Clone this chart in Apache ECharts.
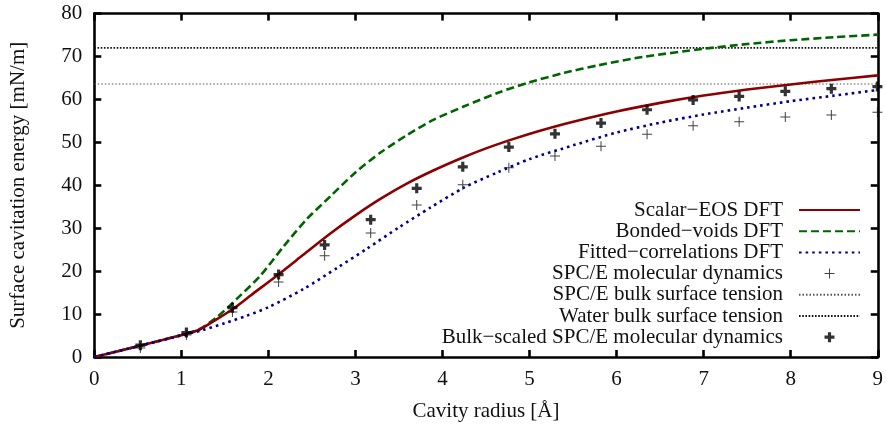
<!DOCTYPE html>
<html>
<head>
<meta charset="utf-8">
<script src="https://cdn.jsdelivr.net/npm/echarts@6/dist/echarts.min.js"></script>
<style>
  html, body { margin: 0; padding: 0; background: #fff; }
  #chart { width: 886px; height: 427px; }
</style>
</head>
<body>
<div id="chart"></div>
<script>
// Cavity radii (Å) of the molecular-dynamics samples
const mdRadius = [0.529, 1.058, 1.587, 2.117, 2.646, 3.175, 3.704, 4.233, 4.762,
                  5.292, 5.821, 6.350, 6.879, 7.408, 7.938, 8.467, 8.996];
const mdSpce = [2.1, 5.1, 10.5, 17.5, 23.6, 28.9, 35.4, 40.1, 44.1,
                46.8, 49.1, 51.9, 53.9, 54.8, 55.9, 56.4, 57.0];
const mdBulkScaled = [2.75, 5.7, 11.5, 19.2, 26.1, 32.0, 39.3, 44.3, 48.9,
                      52.0, 54.5, 57.6, 59.9, 60.7, 61.9, 62.5, 63.0];

// DFT curves: radius (Å) and surface cavitation energy (mN/m)
const scalarR = [0, 0.5, 1.0, 1.2, 1.4, 1.6, 1.8, 2.1, 2.4, 2.7, 3.0, 3.3, 3.6, 3.9,
                 4.2, 4.5, 4.8, 5.1, 5.4, 5.7, 6.0, 6.5, 7.0, 7.5, 8.0, 8.5, 9.0];
const scalarE = [0, 2.5, 5.1, 6.3, 8.7, 11.3, 14.4, 19.0, 23.8, 28.6, 33.0, 37.0, 40.5, 43.5,
                 46.2, 48.6, 50.7, 52.6, 54.3, 55.8, 57.2, 59.2, 60.9, 62.3, 63.5, 64.6, 65.6];

const bondedR = [0, 0.5, 1.0, 1.2, 1.41, 1.64, 1.91, 2.18, 2.44, 2.71, 3.0, 3.3, 3.6, 3.9,
                 4.25, 4.63, 5.0, 5.4, 5.8, 6.3, 7.0, 7.5, 8.0, 8.5, 9.0];
const bondedE = [0, 2.5, 5.1, 6.4, 9.3, 13.6, 19.0, 25.9, 32.1, 37.4, 43.0, 47.8, 51.8, 55.3,
                 58.4, 61.5, 64.0, 66.2, 68.0, 69.9, 71.8, 72.9, 73.8, 74.5, 75.1];

const fittedR = [0, 0.5, 1.0, 1.25, 1.5, 1.75, 2.0, 2.4, 2.8, 3.13, 3.5, 3.86, 4.25,
                 4.63, 5.0, 5.5, 6.0, 6.5, 7.0, 7.5, 8.0, 8.5, 9.0];
const fittedE = [0, 2.5, 5.0, 6.3, 7.9, 9.6, 11.6, 15.8, 20.9, 25.2, 30.2, 34.8, 39.5,
                 43.0, 46.1, 49.3, 52.3, 54.6, 56.5, 58.1, 59.6, 60.9, 62.2];

// Bulk surface tensions (mN/m)
const spceBulkTension = 63.6;
const waterBulkTension = 72.0;

const xTicks = [0, 1, 2, 3, 4, 5, 6, 7, 8, 9];
const yTicks = [0, 10, 20, 30, 40, 50, 60, 70, 80];

const names = [
  'Scalar\u2212EOS DFT',
  'Bonded\u2212voids DFT',
  'Fitted\u2212correlations DFT',
  'SPC/E molecular dynamics',
  'SPC/E bulk surface tension',
  'Water bulk surface tension',
  'Bulk\u2212scaled SPC/E molecular dynamics'
];

const zip = (xs, ys) => xs.map((x, i) => [x, ys[i]]);
const FONT = 'Liberation Serif';
const FS = 21;
const thinPlus = 'path://M0,4.5H10V5.5H0Z M4.5,0H5.5V10H4.5Z';
const boldPlus = 'path://M0,3.4H10V6.6H0Z M3.4,0H6.6V10H3.4Z';

const chart = echarts.init(document.getElementById('chart'), null, { renderer: 'canvas' });

const axisLineStyle = { color: '#000', width: 2.6 };
const tickStyle = { show: true, inside: true, length: 7, lineStyle: { color: '#000', width: 2.6 } };

chart.setOption({
  animation: false,
  backgroundColor: '#fff',
  grid: { left: 94.3, right: 8, top: 13.6, bottom: 68.4, containLabel: false },
  xAxis: [
    {
      type: 'value', min: xTicks[0], max: xTicks[xTicks.length - 1], interval: 1,
      name: 'Cavity radius [\u00c5]', nameLocation: 'middle', nameGap: 44,
      nameTextStyle: { fontFamily: FONT, fontSize: FS, color: '#111' },
      axisLine: { show: true, onZero: false, lineStyle: axisLineStyle },
      axisTick: tickStyle,
      axisLabel: { fontFamily: FONT, fontSize: FS, color: '#111', margin: 12 },
      splitLine: { show: false }
    },
    {
      type: 'value', position: 'top', min: xTicks[0], max: xTicks[xTicks.length - 1], interval: 1,
      axisLine: { show: true, onZero: false, lineStyle: axisLineStyle },
      axisTick: tickStyle,
      axisLabel: { show: false },
      splitLine: { show: false }
    }
  ],
  yAxis: [
    {
      type: 'value', min: yTicks[0], max: yTicks[yTicks.length - 1], interval: 10,
      name: 'Surface cavitation energy [mN/m]', nameLocation: 'middle', nameGap: 65,
      nameTextStyle: { fontFamily: FONT, fontSize: FS, color: '#111' },
      axisLine: { show: true, onZero: false, lineStyle: axisLineStyle },
      axisTick: tickStyle,
      axisLabel: { fontFamily: FONT, fontSize: FS, color: '#111', margin: 12 },
      splitLine: { show: false }
    },
    {
      type: 'value', position: 'right', min: yTicks[0], max: yTicks[yTicks.length - 1], interval: 10,
      axisLine: { show: true, onZero: false, lineStyle: axisLineStyle },
      axisTick: tickStyle,
      axisLabel: { show: false },
      splitLine: { show: false }
    }
  ],
  legend: {
    orient: 'vertical',
    right: 20,
    top: 194.5,
    align: 'right',
    itemWidth: 61,
    itemHeight: 10,
    itemGap: 0.2,
    selectedMode: false,
    textStyle: { fontFamily: FONT, fontSize: FS, color: '#111', padding: [0, 11, 0, 0] },
    data: names.map((n, i) => {
      if (i === 3) return { name: n, icon: thinPlus };
      if (i === 6) return { name: n, icon: boldPlus };
      // line-only keys: hide the point symbol drawn in the middle of the key
      return { name: n, itemStyle: { opacity: 0 } };
    })
  },
  series: [
    {
      name: names[0], type: 'line', data: zip(scalarR, scalarE),
      showSymbol: false, symbol: 'none', smooth: 0.25, z: 3,
      lineStyle: { color: '#8b0000', width: 2.6 },
      itemStyle: { color: '#8b0000' }
    },
    {
      name: names[1], type: 'line', data: zip(bondedR, bondedE),
      showSymbol: false, symbol: 'none', smooth: 0.25, z: 2,
      lineStyle: { color: '#006400', width: 2.6, type: [8, 4] },
      itemStyle: { color: '#006400' }
    },
    {
      name: names[2], type: 'line', data: zip(fittedR, fittedE),
      showSymbol: false, symbol: 'none', smooth: 0.25, z: 4,
      lineStyle: { color: '#00008b', width: 2.6, type: [2.6, 4] },
      itemStyle: { color: '#00008b' }
    },
    {
      name: names[3], type: 'scatter', data: zip(mdRadius, mdSpce),
      symbol: thinPlus, symbolSize: 10, z: 5,
      itemStyle: { color: '#111' }
    },
    {
      name: names[4], type: 'line',
      data: [[xTicks[0], spceBulkTension], [xTicks[xTicks.length - 1], spceBulkTension]],
      showSymbol: false, symbol: 'none', z: 1,
      lineStyle: { color: '#555', width: 1, type: [1.5, 2] },
      itemStyle: { color: '#555' }
    },
    {
      name: names[5], type: 'line',
      data: [[xTicks[0], waterBulkTension], [xTicks[xTicks.length - 1], waterBulkTension]],
      showSymbol: false, symbol: 'none', z: 1,
      lineStyle: { color: '#111', width: 1.8, type: [1.6, 1.6] },
      itemStyle: { color: '#111' }
    },
    {
      name: names[6], type: 'scatter', data: zip(mdRadius, mdBulkScaled),
      symbol: boldPlus, symbolSize: 10, z: 6,
      itemStyle: { color: '#000' }
    }
  ]
});
</script>
</body>
</html>
